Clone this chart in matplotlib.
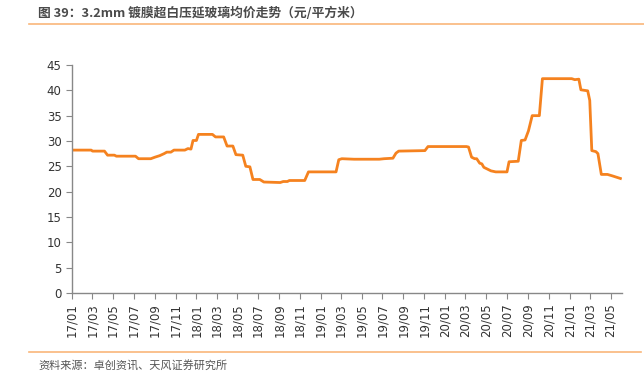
import matplotlib
matplotlib.use("Agg")
import matplotlib.pyplot as plt
import matplotlib.dates as mdates
import pandas as pd

plt.rcParams['font.family'] = ['Noto Sans CJK SC', 'DejaVu Sans']

dates = ["2017-01-01", "2017-02-26", "2017-03-02", "2017-04-06", "2017-04-15", "2017-05-05",
         "2017-05-11", "2017-07-06", "2017-07-15", "2017-08-20", "2017-09-01", "2017-09-15",
         "2017-09-28", "2017-10-06", "2017-10-18", "2017-10-27", "2017-11-28", "2017-12-07",
         "2017-12-16", "2017-12-22", "2018-01-01", "2018-01-07", "2018-02-17", "2018-02-26",
         "2018-03-22", "2018-04-01", "2018-04-18", "2018-04-27", "2018-05-17", "2018-05-26",
         "2018-06-07", "2018-06-16", "2018-07-06", "2018-07-18", "2018-09-04", "2018-09-13",
         "2018-09-25", "2018-10-01", "2018-11-15", "2018-11-26", "2019-02-15", "2019-02-23",
         "2019-03-04", "2019-04-09", "2019-06-22", "2019-07-06", "2019-08-01", "2019-08-10",
         "2019-08-18", "2019-11-03", "2019-11-12", "2020-03-04", "2020-03-10", "2020-03-19",
         "2020-03-28", "2020-04-03", "2020-04-12", "2020-04-18", "2020-04-24", "2020-05-06",
         "2020-05-15", "2020-05-29", "2020-07-01", "2020-07-07", "2020-08-03", "2020-08-12",
         "2020-08-23", "2020-09-02", "2020-09-13", "2020-10-04", "2020-10-13", "2021-01-07",
         "2021-01-16", "2021-01-28", "2021-02-03", "2021-02-23", "2021-03-01", "2021-03-07",
         "2021-03-19", "2021-03-25", "2021-04-04", "2021-04-22", "2021-05-07", "2021-05-30"]
prices = [28.2, 28.2, 28.0, 28.0, 27.2, 27.2,
          27.0, 27.0, 26.5, 26.5, 26.8, 27.1,
          27.5, 27.8, 27.8, 28.2, 28.2, 28.5,
          28.4, 30.1, 30.1, 31.3, 31.3, 30.8,
          30.8, 29.0, 29.0, 27.3, 27.2, 25.0,
          24.9, 22.4, 22.4, 21.9, 21.8, 22.0,
          22.0, 22.2, 22.2, 23.9, 23.9, 26.3,
          26.5, 26.4, 26.4, 26.5, 26.6, 27.6,
          28.0, 28.1, 28.9, 28.9, 28.8, 26.8,
          26.5, 26.5, 25.6, 25.5, 24.8, 24.4,
          24.1, 23.9, 23.9, 25.9, 26.0, 30.1,
          30.2, 32.0, 35.0, 35.0, 42.3, 42.3,
          42.1, 42.2, 40.1, 39.9, 38.0, 28.1,
          27.9, 27.5, 23.4, 23.4, 23.1, 22.6]

title = "图 39：3.2mm 镀膜超白压延玻璃均价走势（元/平方米）"
source = "资料来源：卓创资讯、天风证券研究所"
yticks = [0, 5, 10, 15, 20, 25, 30, 35, 40, 45]

x = pd.to_datetime(dates)

fig = plt.figure(figsize=(6.44, 3.80), dpi=100)
ax = fig.add_axes([0.112, 0.229, 0.854, 0.600])
ax.plot(x, prices, color='#F5821F', lw=2.0, solid_joinstyle='round')

ax.set_ylim(0, 45)
ax.set_yticks(yticks)
ax.set_xlim(pd.Timestamp("2017-01-01"), pd.Timestamp("2021-06-04"))
ax.xaxis.set_major_locator(mdates.MonthLocator(bymonth=[1, 3, 5, 7, 9, 11]))
ax.xaxis.set_major_formatter(mdates.DateFormatter('%y/%m'))
for lab in ax.get_xticklabels():
    lab.set_rotation(90)

for s in ['top', 'right']:
    ax.spines[s].set_visible(False)
for s in ['left', 'bottom']:
    ax.spines[s].set_color('#888888')
    ax.spines[s].set_linewidth(1.0)
ax.tick_params(axis='both', colors='#888888', labelcolor='#333333', labelsize=8.5, length=4, width=0.8)
for lab in ax.get_xticklabels() + ax.get_yticklabels():
    lab.set_family('DejaVu Sans')

fig.text(0.059, 0.965, title, fontsize=9.2, fontweight='bold', color='#4a4a4a', va='center', ha='left')
fig.add_artist(plt.Line2D([0.045, 1.0], [0.937, 0.937], color='#F9B67A', lw=1.2))
fig.add_artist(plt.Line2D([0.045, 0.995], [0.074, 0.074], color='#F9B67A', lw=1.2))
fig.text(0.059, 0.037, source, fontsize=8, color='#555555', va='center', ha='left')

fig.savefig("out.png", dpi=100)
